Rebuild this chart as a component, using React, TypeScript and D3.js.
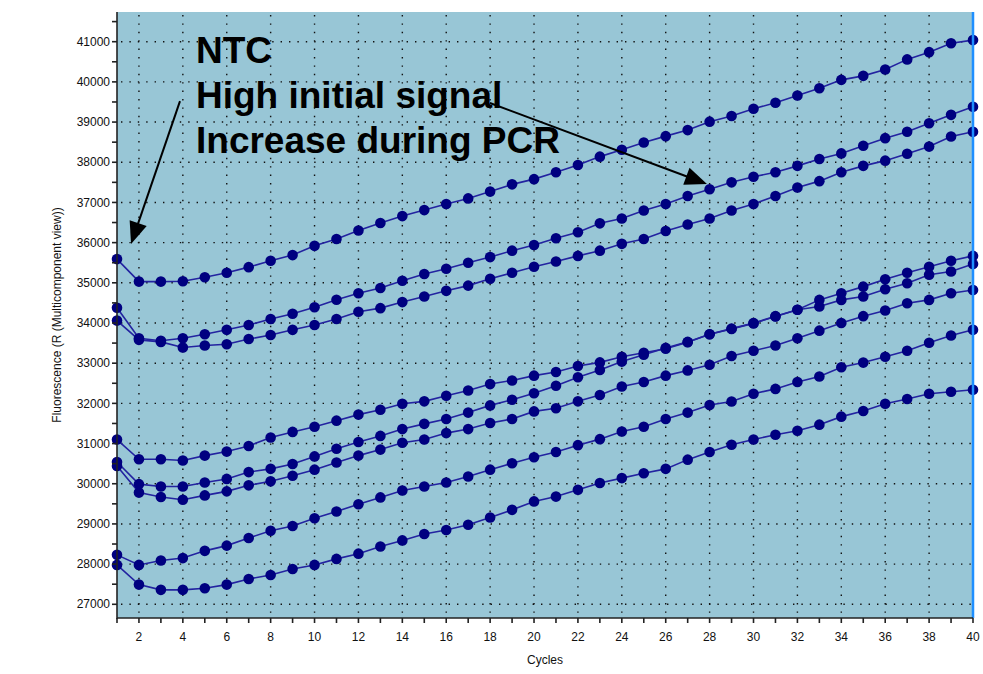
import React from "react";
import * as d3 from "d3";

// Amplification cycles 1..40
const cycles: number[] = d3.range(1, 41);

// Multicomponent fluorescence (R) per well, one value per cycle
const ntcTop: number[] = [
  35590, 35030, 35030, 35040, 35140, 35250, 35390, 35550, 35690, 35920,
  36090, 36300, 36490, 36660, 36810, 36960, 37100, 37270, 37450, 37580,
  37750, 37930, 38140, 38310, 38490, 38650, 38800, 39010, 39150, 39330,
  39480, 39660, 39840, 40050, 40150, 40310, 40560, 40740, 40960, 41040,
];
const ntcMidA: number[] = [
  34380, 33620, 33560, 33620, 33720, 33830, 33950, 34100, 34230, 34390,
  34580, 34740, 34870, 35050, 35220, 35350, 35500, 35640, 35800, 35940,
  36110, 36260, 36480, 36600, 36800, 36960, 37160, 37330, 37500, 37640,
  37750, 37910, 38080, 38220, 38410, 38600, 38760, 38970, 39180, 39380,
];
const ntcMidB: number[] = [
  34060, 33580, 33530, 33390, 33440, 33470, 33600, 33700, 33830, 33950,
  34100, 34280, 34370, 34520, 34660, 34800, 34930, 35100, 35250, 35400,
  35530, 35670, 35800, 35970, 36090, 36290, 36450, 36600, 36800, 36960,
  37160, 37370, 37530, 37750, 37910, 38040, 38210, 38390, 38640, 38760,
];
const wellD: number[] = [
  31100, 30610, 30610, 30580, 30700, 30800, 30940, 31150, 31290, 31420,
  31570, 31720, 31840, 31990, 32050, 32190, 32320, 32480, 32570, 32690,
  32780, 32930, 33020, 33160, 33260, 33360, 33520, 33720, 33850, 33990,
  34160, 34330, 34410, 34575, 34660, 34840, 34990, 35200, 35280, 35470,
];
const wellE: number[] = [
  30540, 29990, 29930, 29930, 30030, 30120, 30290, 30370, 30490, 30680,
  30870, 31040, 31190, 31360, 31490, 31610, 31770, 31950, 32090, 32250,
  32440, 32650, 32830, 33040, 33210, 33380, 33530, 33720, 33860, 34000,
  34170, 34330, 34575, 34740, 34905, 35090, 35250, 35400, 35550, 35670,
];
const wellF: number[] = [
  30440, 29780, 29670, 29600, 29710, 29810, 29960, 30060, 30200, 30350,
  30530, 30700, 30850, 31020, 31100, 31260, 31360, 31510, 31610, 31800,
  31880, 32050, 32210, 32420, 32530, 32690, 32820, 32960, 33180, 33310,
  33440, 33620, 33810, 34000, 34170, 34310, 34490, 34575, 34740, 34820,
];
const wellG: number[] = [
  28230, 27980, 28090, 28150, 28330, 28460, 28650, 28830, 28950, 29140,
  29310, 29490, 29660, 29830, 29930, 30030, 30180, 30350, 30510, 30660,
  30790, 30960, 31110, 31300, 31420, 31610, 31770, 31960, 32045, 32240,
  32360, 32530, 32670, 32900, 33015, 33160, 33310, 33510, 33690, 33830,
];
const wellH: number[] = [
  27980, 27490, 27360, 27360, 27400, 27490, 27630, 27730, 27880, 27980,
  28130, 28260, 28440, 28590, 28750, 28850, 28980, 29160, 29350, 29560,
  29680, 29850, 30020, 30140, 30260, 30370, 30600, 30790, 30970, 31100,
  31220, 31320, 31470, 31670, 31810, 31990, 32110, 32240, 32290, 32340,
];

const allSeries: number[][] = [ntcTop, ntcMidA, ntcMidB, wellD, wellE, wellF, wellG, wellH];

// Axis ticks
const yMajorTicks: number[] = d3.range(27000, 41001, 1000);
const yMinorTicks: number[] = d3.range(27000, 41501, 500);
const xLabelTicks: number[] = d3.range(2, 41, 2);
const xGridTicks: number[] = d3.range(2, 39, 2);

// Annotation text
const noteLines: string[] = ["NTC", "High initial signal", "Increase during PCR"];

const W = 983;
const H = 674;
const plot = { left: 117, right: 973, top: 12, bottom: 618 };

export default function App() {
  const x = d3.scaleLinear().domain([1, 40]).range([plot.left, plot.right]);
  const y = d3.scaleLinear().domain([26659, 41739]).range([plot.bottom, plot.top]);

  const line = d3
    .line<number>()
    .x((_, i) => x(cycles[i]))
    .y((d) => y(d));

  // Arrow from a text anchor to a target point, both in data space
  const arrow = (c0: number, v0: number, c1: number, v1: number, key: string) => {
    const x0 = x(c0), y0 = y(v0), x1 = x(c1), y1 = y(v1);
    const dx = x1 - x0, dy = y1 - y0;
    const len = Math.hypot(dx, dy);
    const ux = dx / len, uy = dy / len;
    const hl = 22, hw = 9;
    const bx = x1 - ux * hl, by = y1 - uy * hl;
    const pts = [
      [x1, y1],
      [bx - uy * hw, by + ux * hw],
      [bx + uy * hw, by - ux * hw],
    ];
    return (
      <g key={key}>
        <line x1={x0} y1={y0} x2={bx + ux * 2} y2={by + uy * 2} stroke="#000" strokeWidth={2} />
        <polygon points={pts.map((p) => p.join(",")).join(" ")} fill="#000" />
      </g>
    );
  };

  const font = "'Liberation Sans', Arial, sans-serif";

  return (
    <svg
      width={W}
      height={H}
      style={{ position: "absolute", left: 0, top: 0, background: "#fff" }}
      fontFamily={font}
    >
      <rect
        x={plot.left}
        y={plot.top}
        width={plot.right - plot.left}
        height={plot.bottom - plot.top}
        fill="#98c6d6"
      />
      {/* dotted grid */}
      <g stroke="#111" strokeWidth={1.4} strokeDasharray="1.4 7">
        {yMajorTicks.map((t) => (
          <line key={"gy" + t} x1={plot.left + 4} x2={plot.right} y1={y(t)} y2={y(t)} />
        ))}
        {xGridTicks.map((t) => (
          <line key={"gx" + t} x1={x(t)} x2={x(t)} y1={plot.top + 3} y2={plot.bottom} />
        ))}
      </g>

      {/* amplification curves */}
      <g>
        {allSeries.map((s, k) => (
          <path key={"l" + k} d={line(s) || ""} fill="none" stroke="#2323a0" strokeWidth={1.6} />
        ))}
      </g>
      <g fill="#000080">
        {allSeries.map((s, k) =>
          s.map((v, i) => <circle key={"m" + k + "-" + i} cx={x(cycles[i])} cy={y(v)} r={5.3} />)
        )}
      </g>

      {/* right boundary */}
      <line x1={plot.right} x2={plot.right} y1={plot.top} y2={plot.bottom} stroke="#1e8fff" strokeWidth={2.5} />

      {/* y axis */}
      <g stroke="#222" strokeWidth={1.6}>
        <line x1={plot.left} x2={plot.left} y1={plot.top} y2={plot.bottom + 1} />
        {yMinorTicks.map((t) => (
          <line key={"yt" + t} x1={plot.left - 5} x2={plot.left} y1={y(t)} y2={y(t)} />
        ))}
      </g>
      <g fontSize={12} fill="#111" textAnchor="end">
        {yMajorTicks.map((t) => (
          <text key={"yl" + t} x={plot.left - 7} y={y(t)} dy="0.35em">
            {t}
          </text>
        ))}
      </g>

      {/* x axis */}
      <g stroke="#222" strokeWidth={1.6}>
        <line x1={plot.left} x2={plot.right} y1={plot.bottom} y2={plot.bottom} />
        {cycles.map((c) => (
          <line key={"xt" + c} x1={x(c)} x2={x(c)} y1={plot.bottom} y2={plot.bottom + 5} />
        ))}
      </g>
      <g fontSize={12} fill="#111" textAnchor="middle">
        {xLabelTicks.map((t) => (
          <text key={"xl" + t} x={x(t)} y={plot.bottom + 23}>
            {t}
          </text>
        ))}
      </g>

      {/* axis titles */}
      <text x={(plot.left + plot.right) / 2} y={664} fontSize={12} textAnchor="middle" fill="#111">
        Cycles
      </text>
      <text
        transform={`translate(61, ${(plot.top + plot.bottom) / 2}) rotate(-90)`}
        fontSize={12}
        textAnchor="middle"
        fill="#111"
      >
        Fluorescence (R (Multicomponent view))
      </text>

      {/* annotation */}
      <g fontSize={37} fontWeight="bold" fill="#000">
        {noteLines.map((s, i) => (
          <text key={"n" + i} x={196} y={63 + i * 45}>
            {s}
          </text>
        ))}
      </g>
      {arrow(3.87, 39522, 1.64, 35966, "a1")}
      {arrow(17.99, 39475, 27.88, 37459, "a2")}
    </svg>
  );
}
